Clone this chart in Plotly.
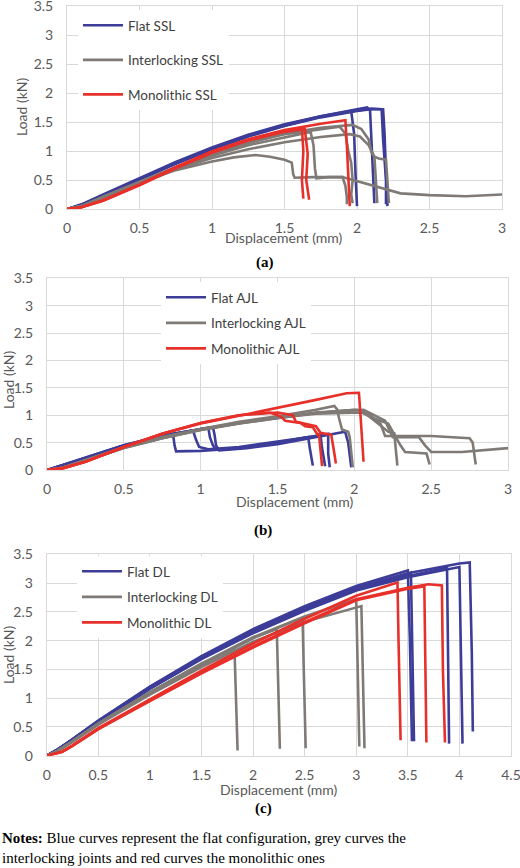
import plotly.graph_objects as go

W, H = 520, 868

# ---------------- Panel (a): SSL ----------------
ssl_flat_x = [
    [0, 0.1, 0.25, 0.5, 0.75, 1.0, 1.25, 1.5, 1.75, 1.96, 1.98, 1.99, 2.0],
    [0, 0.1, 0.25, 0.5, 0.75, 1.0, 1.25, 1.5, 1.75, 2.0, 2.07, 2.09, 2.1, 2.11, 2.12],
    [0, 0.1, 0.25, 0.5, 0.75, 1.0, 1.25, 1.5, 1.75, 2.0, 2.1, 2.18, 2.19, 2.2, 2.21],
    [0, 0.1, 0.25, 0.5, 0.75, 1.0, 1.25, 1.5, 1.75, 2.0, 2.1, 2.17, 2.18, 2.2, 2.2],
]
ssl_flat_y = [
    [0, 0.08, 0.25, 0.53, 0.81, 1.06, 1.28, 1.46, 1.6, 1.69, 1.3, 0.6, 0.05],
    [0, 0.07, 0.24, 0.52, 0.8, 1.05, 1.27, 1.45, 1.6, 1.72, 1.75, 1.7, 1.2, 0.6, 0.1],
    [0, 0.06, 0.23, 0.5, 0.78, 1.03, 1.25, 1.43, 1.58, 1.69, 1.72, 1.72, 1.3, 0.6, 0.05],
    [0, 0.07, 0.24, 0.51, 0.79, 1.04, 1.26, 1.44, 1.59, 1.7, 1.73, 1.72, 1.2, 0.5, 0.08],
]
ssl_inter_x = [
    [0, 0.1, 0.25, 0.5, 0.75, 1.0, 1.15, 1.3, 1.4, 1.5, 1.55, 1.56, 1.57, 1.7, 1.9, 2.05, 2.2, 2.3, 2.5, 2.75, 3.0],
    [0, 0.1, 0.25, 0.5, 0.75, 1.0, 1.25, 1.5, 1.68, 1.7, 1.71, 1.72, 1.8, 1.9, 1.92, 1.93, 1.93],
    [0, 0.1, 0.25, 0.5, 0.75, 1.0, 1.25, 1.5, 1.75, 1.88, 1.92, 1.94, 1.96, 1.97, 1.96, 1.97],
    [0, 0.1, 0.25, 0.5, 0.75, 1.0, 1.25, 1.5, 1.75, 1.97, 2.03, 2.08, 2.1, 2.12, 2.13, 2.14],
    [0, 0.1, 0.25, 0.5, 0.75, 1.0, 1.25, 1.5, 1.75, 1.95, 2.02, 2.08, 2.12, 2.15, 2.2, 2.21, 2.22],
]
ssl_inter_y = [
    [0, 0.05, 0.2, 0.45, 0.67, 0.82, 0.89, 0.93, 0.9, 0.85, 0.8, 0.6, 0.54, 0.55, 0.55, 0.45, 0.35, 0.27, 0.24, 0.22, 0.25],
    [0, 0.05, 0.2, 0.46, 0.7, 0.92, 1.1, 1.24, 1.33, 1.1, 0.7, 0.53, 0.55, 0.55, 0.4, 0.2, 0.08],
    [0, 0.05, 0.21, 0.47, 0.72, 0.95, 1.14, 1.29, 1.38, 1.42, 1.3, 1.0, 0.8, 0.5, 0.25, 0.1],
    [0, 0.05, 0.21, 0.47, 0.72, 0.95, 1.14, 1.3, 1.4, 1.45, 1.38, 1.2, 0.98, 0.9, 0.5, 0.1],
    [0, 0.05, 0.2, 0.45, 0.68, 0.88, 1.03, 1.15, 1.24, 1.29, 1.25, 1.1, 0.9, 0.87, 0.85, 0.4, 0.1],
]
ssl_mono_x = [
    [0, 0.1, 0.25, 0.5, 0.75, 1.0, 1.25, 1.5, 1.62, 1.63, 1.62, 1.63],
    [0, 0.1, 0.25, 0.5, 0.75, 1.0, 1.25, 1.5, 1.64, 1.66, 1.65, 1.67],
    [0, 0.1, 0.25, 0.5, 0.75, 1.0, 1.25, 1.5, 1.75, 1.92, 1.93, 1.94, 1.95],
]
ssl_mono_y = [
    [0, 0.03, 0.15, 0.42, 0.72, 0.99, 1.2, 1.35, 1.39, 1.0, 0.5, 0.18],
    [0, 0.03, 0.14, 0.41, 0.7, 0.97, 1.18, 1.33, 1.38, 0.95, 0.5, 0.16],
    [0, 0.03, 0.15, 0.42, 0.72, 0.99, 1.2, 1.36, 1.47, 1.53, 1.1, 0.5, 0.05],
]

# ---------------- Panel (b): AJL ----------------
ajl_flat_x = [
    [0, 0.25, 0.5, 0.75, 0.82, 0.83, 0.84, 1.0, 1.25, 1.5, 1.7, 1.71, 1.72, 1.73],
    [0, 0.25, 0.5, 0.75, 0.95, 0.97, 0.99, 1.05, 1.25, 1.5, 1.78, 1.79, 1.8, 1.81],
    [0, 0.25, 0.5, 0.75, 1.0, 1.05, 1.06, 1.08, 1.1, 1.3, 1.5, 1.83, 1.83, 1.84],
    [0, 0.25, 0.5, 0.75, 1.0, 1.08, 1.09, 1.1, 1.12, 1.3, 1.5, 1.75, 1.94, 1.96, 1.97, 1.98],
]
ajl_flat_y = [
    [0, 0.22, 0.45, 0.62, 0.66, 0.45, 0.34, 0.35, 0.4, 0.5, 0.6, 0.4, 0.2, 0.08],
    [0, 0.22, 0.45, 0.63, 0.72, 0.55, 0.42, 0.38, 0.42, 0.52, 0.63, 0.4, 0.2, 0.07],
    [0, 0.21, 0.44, 0.62, 0.75, 0.77, 0.6, 0.45, 0.37, 0.42, 0.5, 0.66, 0.3, 0.05],
    [0, 0.21, 0.44, 0.62, 0.75, 0.78, 0.65, 0.45, 0.36, 0.4, 0.47, 0.6, 0.7, 0.5, 0.3, 0.05],
]
ajl_inter_x = [
    [0, 0.1, 0.25, 0.5, 0.75, 1.0, 1.25, 1.5, 1.75, 1.87, 1.89, 1.9, 1.92, 1.96, 1.97, 1.98, 1.99],
    [0, 0.1, 0.25, 0.5, 0.75, 1.0, 1.25, 1.5, 1.75, 2.0, 2.05, 2.13, 2.22, 2.26, 2.27, 2.28],
    [0, 0.1, 0.25, 0.5, 0.75, 1.0, 1.25, 1.5, 1.75, 2.02, 2.08, 2.17, 2.2, 2.5, 2.75, 2.77, 2.78, 2.79],
    [0, 0.1, 0.25, 0.5, 0.75, 1.0, 1.25, 1.5, 1.75, 2.05, 2.12, 2.22, 2.27, 2.3, 2.33, 2.45, 2.47, 2.48, 2.49],
    [0, 0.1, 0.25, 0.5, 0.75, 1.0, 1.25, 1.5, 1.75, 2.06, 2.2, 2.25, 2.42, 2.46, 2.5, 2.7, 3.0],
]
ajl_inter_y = [
    [0, 0.04, 0.18, 0.42, 0.6, 0.75, 0.88, 0.98, 1.1, 1.17, 1.1, 0.95, 0.74, 0.7, 0.6, 0.3, 0.05],
    [0, 0.04, 0.18, 0.41, 0.59, 0.74, 0.86, 0.96, 1.04, 1.1, 1.08, 0.9, 0.7, 0.67, 0.4, 0.08],
    [0, 0.04, 0.18, 0.41, 0.59, 0.74, 0.86, 0.96, 1.05, 1.1, 1.05, 0.85, 0.62, 0.62, 0.58, 0.5, 0.3, 0.1],
    [0, 0.04, 0.17, 0.4, 0.58, 0.73, 0.85, 0.95, 1.03, 1.05, 0.95, 0.85, 0.6, 0.45, 0.33, 0.3, 0.3, 0.2, 0.1],
    [0, 0.04, 0.17, 0.4, 0.58, 0.73, 0.85, 0.95, 1.04, 1.1, 0.9, 0.6, 0.6, 0.45, 0.33, 0.33, 0.4],
]
ajl_mono_x = [
    [0, 0.1, 0.25, 0.5, 0.75, 1.0, 1.25, 1.5, 1.75, 1.95, 2.03, 2.04, 2.05, 2.06],
    [0, 0.1, 0.25, 0.5, 0.75, 1.0, 1.25, 1.45, 1.52, 1.55, 1.65, 1.68, 1.73, 1.76, 1.77, 1.78, 1.79],
    [0, 0.1, 0.25, 0.5, 0.75, 1.0, 1.25, 1.5, 1.6, 1.62, 1.75, 1.78, 1.85, 1.86, 1.87, 1.88],
]
ajl_mono_y = [
    [0, 0.03, 0.15, 0.42, 0.66, 0.85, 0.99, 1.13, 1.28, 1.4, 1.41, 1.0, 0.5, 0.15],
    [0, 0.03, 0.15, 0.42, 0.66, 0.86, 1.0, 1.05, 0.98, 0.9, 0.86, 0.8, 0.78, 0.65, 0.65, 0.3, 0.07],
    [0, 0.03, 0.15, 0.42, 0.66, 0.86, 1.0, 1.05, 1.0, 0.88, 0.8, 0.68, 0.64, 0.5, 0.3, 0.12],
]

# ---------------- Panel (c): DL ----------------
dl_flat_x = [
    [0, 0.1, 0.25, 0.5, 1.0, 1.5, 2.0, 2.5, 3.0, 3.5, 3.52, 3.53, 3.54],
    [0, 0.1, 0.25, 0.5, 1.0, 1.5, 2.0, 2.5, 3.0, 3.5, 3.53, 3.55, 3.56],
    [0, 0.1, 0.25, 0.5, 1.0, 1.5, 2.0, 2.5, 3.0, 3.5, 3.88, 3.89, 3.9],
    [0, 0.1, 0.25, 0.5, 1.0, 1.5, 2.0, 2.5, 3.0, 3.5, 4.0, 4.02, 4.03],
    [0, 0.1, 0.25, 0.5, 1.0, 1.5, 2.0, 2.5, 3.0, 3.5, 4.0, 4.1, 4.12, 4.13],
]
dl_flat_y = [
    [0, 0.1, 0.29, 0.61, 1.2, 1.73, 2.2, 2.6, 2.95, 3.22, 2.0, 1.0, 0.25],
    [0, 0.1, 0.28, 0.6, 1.19, 1.71, 2.17, 2.56, 2.9, 3.15, 3.18, 1.5, 0.25],
    [0, 0.1, 0.28, 0.59, 1.17, 1.69, 2.14, 2.53, 2.88, 3.12, 3.27, 1.5, 0.21],
    [0, 0.1, 0.27, 0.58, 1.16, 1.68, 2.13, 2.52, 2.87, 3.1, 3.28, 1.5, 0.21],
    [0, 0.1, 0.28, 0.6, 1.19, 1.71, 2.17, 2.57, 2.92, 3.17, 3.34, 3.36, 1.8, 0.42],
]
dl_inter_x = [
    [0, 0.1, 0.25, 0.5, 1.0, 1.5, 1.82, 1.83, 1.84, 1.85],
    [0, 0.1, 0.25, 0.5, 1.0, 1.5, 2.0, 2.23, 2.24, 2.25, 2.26],
    [0, 0.1, 0.25, 0.5, 1.0, 1.5, 2.0, 2.48, 2.49, 2.5, 2.51],
    [0, 0.1, 0.25, 0.5, 1.0, 1.5, 2.0, 2.5, 3.0, 3.01, 3.02, 3.03],
    [0, 0.1, 0.25, 0.5, 1.0, 1.5, 2.0, 2.5, 3.05, 3.06, 3.07, 3.08],
]
dl_inter_y = [
    [0, 0.08, 0.25, 0.56, 1.1, 1.6, 1.86, 1.2, 0.6, 0.09],
    [0, 0.08, 0.25, 0.56, 1.1, 1.59, 2.05, 2.2, 1.5, 0.7, 0.12],
    [0, 0.08, 0.25, 0.55, 1.09, 1.58, 2.04, 2.4, 1.6, 0.8, 0.13],
    [0, 0.08, 0.25, 0.56, 1.1, 1.6, 2.06, 2.42, 2.72, 1.8, 0.8, 0.16],
    [0, 0.08, 0.24, 0.54, 1.06, 1.54, 1.98, 2.33, 2.6, 1.8, 0.8, 0.13],
]
dl_mono_x = [
    [0, 0.15, 0.25, 0.5, 1.0, 1.5, 2.0, 2.5, 3.0, 3.4, 3.41, 3.42, 3.43],
    [0, 0.15, 0.25, 0.5, 1.0, 1.5, 2.0, 2.5, 3.0, 3.5, 3.66, 3.67, 3.68],
    [0, 0.15, 0.25, 0.5, 1.0, 1.5, 2.0, 2.5, 3.0, 3.5, 3.7, 3.83, 3.84, 3.86],
]
dl_mono_y = [
    [0, 0.07, 0.18, 0.48, 0.98, 1.48, 1.95, 2.38, 2.78, 3.01, 2.0, 1.0, 0.27],
    [0, 0.07, 0.17, 0.46, 0.95, 1.43, 1.88, 2.3, 2.7, 2.9, 2.94, 1.5, 0.23],
    [0, 0.07, 0.17, 0.46, 0.96, 1.44, 1.9, 2.32, 2.72, 2.92, 2.98, 2.96, 1.5, 0.23],
]

series_names = {
    "a": ["Flat SSL", "Interlocking SSL", "Monolithic SSL"],
    "b": ["Flat AJL", "Interlocking AJL", "Monolithic AJL"],
    "c": ["Flat DL", "Interlocking DL", "Monolithic DL"],
}
x_tick_max = {"a": 3.0, "b": 3.0, "c": 4.5}

BLUE = "#3D3D99"
GREY = "#7F7A75"
RED = "#E8302A"
GRID = "#D9D9D9"
TICK = "#595959"
FONT = "Lato, 'Open Sans', sans-serif"
SERIF = "'Liberation Serif', 'DejaVu Serif', serif"


def px_x(p):
    return p / W


def px_y(p):
    return 1 - p / H


fig = go.Figure()

panels = [
    ("a", "x", "y", "legend", [(ssl_flat_x, ssl_flat_y, BLUE), (ssl_inter_x, ssl_inter_y, GREY), (ssl_mono_x, ssl_mono_y, RED)]),
    ("b", "x2", "y2", "legend2", [(ajl_flat_x, ajl_flat_y, BLUE), (ajl_inter_x, ajl_inter_y, GREY), (ajl_mono_x, ajl_mono_y, RED)]),
    ("c", "x3", "y3", "legend3", [(dl_flat_x, dl_flat_y, BLUE), (dl_inter_x, dl_inter_y, GREY), (dl_mono_x, dl_mono_y, RED)]),
]

for key, xa, ya, lg, groups in panels:
    for gi, (xs, ys, col) in enumerate(groups):
        name = series_names[key][gi]
        for ci, (cx, cy) in enumerate(zip(xs, ys)):
            fig.add_trace(go.Scatter(
                x=cx, y=cy, mode="lines", xaxis=xa, yaxis=ya,
                line=dict(color=col, width=2.6),
                name=name, legendgroup=key + name, legend=lg,
                showlegend=(ci == 0), hoverinfo="skip",
            ))

# panel pixel boxes: (left, right, top, bottom)
boxes = {
    "a": (67, 502, 6, 209),
    "b": (47, 508, 278.3, 470),
    "c": (46.7, 511, 554.3, 755.7),
}

axis_common = dict(
    showgrid=True, gridcolor=GRID, gridwidth=1, zeroline=False,
    showline=True, linecolor=GRID, linewidth=1, mirror=True,
    ticks="", tickfont=dict(family=FONT, size=14, color=TICK),
    fixedrange=True, automargin=False, ticklabeloverflow="allow",
)

layout_axes = {}
for i, key in enumerate(["a", "b", "c"]):
    l, r, t, b = boxes[key]
    sfx = "" if i == 0 else str(i + 1)
    layout_axes["xaxis" + sfx] = dict(
        axis_common, domain=[px_x(l), px_x(r)], range=[0, x_tick_max[key]],
        dtick=0.5, tick0=0, anchor="y" + sfx, ticklabelstandoff=6,
    )
    layout_axes["yaxis" + sfx] = dict(
        axis_common, domain=[px_y(b), px_y(t)], range=[0, 3.5],
        dtick=0.5, tick0=0, anchor="x" + sfx, ticklabelstandoff=10,
    )

legend_common = dict(
    bgcolor="white", borderwidth=0, traceorder="grouped",
    font=dict(family=FONT, size=13.5, color="#404040"),
    xanchor="left", yanchor="top", itemwidth=40,
)

fig.update_layout(
    width=W, height=H, margin=dict(l=0, r=0, t=0, b=0, autoexpand=False),
    paper_bgcolor="white", plot_bgcolor="white",
    showlegend=True,
    legend=dict(legend_common, x=px_x(78), y=px_y(10), tracegroupgap=14),
    legend2=dict(legend_common, x=px_x(161), y=px_y(282), tracegroupgap=5),
    legend3=dict(legend_common, x=px_x(77), y=px_y(556), tracegroupgap=5),
    **layout_axes,
)

ann = []
label_font = dict(family=FONT, size=14, color=TICK)
ytitle_pos = {"a": (21, 107), "b": (8, 380), "c": (8, 655)}
xtitle_pos = {"a": (284, 238), "b": (295, 501), "c": (279, 789)}
cap_pos = {"a": (265, 262), "b": (263, 530), "c": (263, 808)}
for key in ["a", "b", "c"]:
    yx, yy = ytitle_pos[key]
    ann.append(dict(text="Load (kN)", x=px_x(yx), y=px_y(yy), xref="paper", yref="paper",
                    textangle=-90, showarrow=False, font=label_font,
                    xanchor="center", yanchor="middle"))
    xx, xy = xtitle_pos[key]
    ann.append(dict(text="Displacement (mm)", x=px_x(xx), y=px_y(xy), xref="paper", yref="paper",
                    showarrow=False, font=label_font, xanchor="center", yanchor="middle"))
    cx, cy = cap_pos[key]
    ann.append(dict(text="<b>(" + key + ")</b>", x=px_x(cx), y=px_y(cy), xref="paper", yref="paper",
                    showarrow=False, font=dict(family=SERIF, size=15, color="black"),
                    xanchor="center", yanchor="middle"))

ann.append(dict(
    text="<b>Notes:</b> Blue curves represent the flat configuration, grey curves the<br>"
         "interlocking joints and red curves the monolithic ones",
    x=0, y=px_y(848), xref="paper", yref="paper", showarrow=False, align="left",
    xanchor="left", yanchor="middle", font=dict(family=SERIF, size=15, color="black"),
))
fig.update_layout(annotations=ann)

fig.write_html(
    "out.html",
    config={"displayModeBar": False},
    post_script="document.body.style.margin='0';document.body.style.padding='0';",
)
